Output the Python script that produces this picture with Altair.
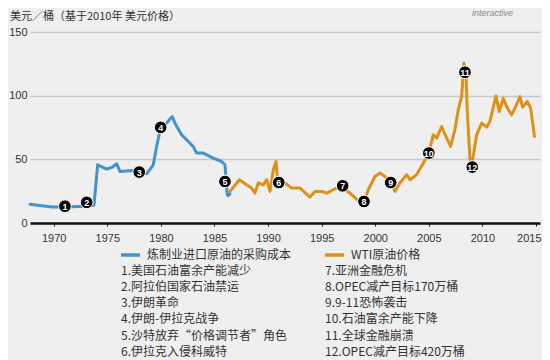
import altair as alt
import pandas as pd

# ---------------- data ----------------
blue_year = [1967.8, 1968.5, 1969.9, 1971.0, 1972.45, 1973.2, 1973.76, 1974.1, 1974.94,
             1975.5, 1975.88, 1976.18, 1977.28, 1977.98, 1978.68, 1979.29, 1979.6,
             1979.98, 1980.38, 1981.06, 1981.32, 1981.94, 1982.56, 1983.02, 1983.34,
             1983.96, 1984.89, 1985.67, 1985.98, 1986.19, 1986.29, 1986.45]
blue_value = [14.8, 14.0, 12.5, 12.6, 13.0, 13.3, 14.0, 45.7, 42.3,
              44.0, 46.5, 40.5, 41.2, 40.0, 38.7, 45.7, 60.0,
              75.0, 77.0, 83.6, 78.4, 69.2, 64.0, 60.0, 54.9,
              54.9, 51.0, 48.3, 45.7, 22.2, 21.4, 23.0]

wti_year = [1986.45, 1987.33, 1988.0, 1988.47, 1988.78, 1989.09, 1989.55, 1989.87, 1990.18,
            1990.49, 1990.74, 1990.86, 1991.58, 1992.2, 1992.98, 1993.91, 1994.38, 1995.0,
            1995.47, 1996.08, 1996.71, 1997.64, 1998.26, 1998.95, 1999.35, 1999.97, 2000.44,
            2000.91, 2001.44, 2001.84, 2002.3, 2002.93, 2003.24, 2003.86, 2004.48, 2005.0,
            2005.41, 2005.73, 2006.19, 2006.66, 2007.03, 2007.43, 2007.74, 2008.06, 2008.27,
            2008.46, 2008.58, 2008.83, 2008.97, 2009.14, 2009.46, 2009.93, 2010.39, 2010.7,
            2011.26, 2011.57, 2011.94, 2012.26, 2012.72, 2013.03, 2013.5, 2013.75, 2014.18,
            2014.5, 2014.85]
wti_value = [24.8, 34.0, 30.0, 27.4, 23.5, 31.4, 30.0, 34.0, 24.8,
             41.8, 48.3, 36.5, 31.4, 27.4, 27.4, 20.4, 24.8, 24.8,
             23.5, 26.1, 28.7, 23.5, 18.8, 16.9, 26.1, 36.5, 39.2,
             36.5, 31.8, 24.8, 31.4, 37.9, 34.0, 37.9, 47.0, 54.9,
             69.2, 66.7, 75.8, 66.7, 60.1, 73.2, 88.8, 99.3, 125.5,
             118.9, 88.8, 51.0, 45.7, 52.2, 69.2, 78.4, 75.3, 79.7,
             99.8, 87.5, 98.0, 91.4, 84.9, 90.2, 99.3, 91.0, 95.4,
             90.2, 68.0]

event_year = [1971.05, 1973.08, 1977.98, 1979.98, 1985.98, 1991.0,
              1996.96, 1998.95, 2001.44, 2005.0, 2008.37, 2009.05]
event_value = [13.2, 16.2, 40.0, 75.1, 32.6, 31.8,
               29.2, 16.9, 31.8, 54.9, 118.4, 43.9]
event_label = ["1", "2", "3", "4", "5", "6", "7", "8", "9", "10", "11", "12"]

series_names = ["炼制业进口原油的采购成本", "WTI原油价格"]
series_colors = ["#4393cf", "#dd9216"]

x_ticks = [1970, 1975, 1980, 1985, 1990, 1995, 2000, 2005, 2010, 2015]
y_ticks = [0, 25, 50, 75, 100, 125, 150]

left_notes = ["1.美国石油富余产能减少", "2.阿拉伯国家石油禁运", "3.伊朗革命",
              "4.伊朗-伊拉克战争", "5.沙特放弃“价格调节者”角色", "6.伊拉克入侵科威特"]
right_notes = ["7.亚洲金融危机", "8.OPEC减产目标170万桶", "9.9-11恐怖袭击",
               "10.石油富余产能下降", "11.全球金融崩溃", "12.OPEC减产目标420万桶"]

title_text = "美元／桶（基于2010年 美元价格）"

# ---------------- tables ----------------
lines_df = pd.concat([
    pd.DataFrame({"year": blue_year, "value": blue_value, "series": series_names[0]}),
    pd.DataFrame({"year": wti_year, "value": wti_value, "series": series_names[1]}),
])
events_df = pd.DataFrame({"year": event_year, "value": event_value, "label": event_label})
one = pd.DataFrame({"d": [0]})

CJK = "Noto Sans CJK SC"
LAT = "Liberation Sans"

x_enc = alt.X("year:Q",
              scale=alt.Scale(domain=[1967.79, 2015.37], nice=False, zero=False),
              axis=alt.Axis(values=x_ticks, format="d", title=None, grid=False,
                            domainColor="#111111", domainWidth=2.5,
                            tickColor="#111111", tickSize=3, tickWidth=1,
                            labelFont=LAT, labelFontSize=11, labelColor="#333333",
                            labelPadding=6, labelFlush=8, labelFlushOffset=5))
y_enc = alt.Y("value:Q",
              scale=alt.Scale(domain=[0, 150], nice=False),
              axis=alt.Axis(values=y_ticks, title=None, domain=False, ticks=False,
                            gridColor="#c8c8c8", gridWidth=1.5,
                            labelFont=LAT, labelFontSize=11, labelColor="#333333",
                            labelPadding=3))

lines = alt.Chart(lines_df).mark_line(strokeWidth=3, strokeJoin="round", strokeCap="round").encode(
    x=x_enc, y=y_enc,
    color=alt.Color("series:N", scale=alt.Scale(domain=series_names, range=series_colors), legend=None),
    detail="series:N",
)

dots = alt.Chart(events_df).mark_circle(size=160, color="#000000", opacity=1,
                                        stroke="#ffffff", strokeWidth=1).encode(
    x="year:Q", y="value:Q")
dot_text = alt.Chart(events_df).mark_text(color="#ffffff", fontSize=9, fontWeight="bold",
                                          font=LAT, align="center", baseline="middle", dy=0.5).encode(
    x="year:Q", y="value:Q", text="label:N")

layers = [lines, dots, dot_text]

# title and logo text
layers.append(alt.Chart(one).mark_text(font=CJK, fontSize=11, color="#333333", align="left",
                                       baseline="middle").encode(
    x=alt.value(-20), y=alt.value(-15), text=alt.value(title_text)))
layers.append(alt.Chart(one).mark_text(font=LAT, fontSize=9, fontStyle="italic", color="#888888",
                                       align="right", baseline="middle").encode(
    x=alt.value(483), y=alt.value(-19), text=alt.value("interactive")))

# custom legend
row0 = 223
step = 16.1
col_x = [91, 295]
for ci in range(2):
    layers.append(alt.Chart(one).mark_rule(strokeWidth=3.5, color=series_colors[ci]).encode(
        x=alt.value(col_x[ci]), x2=alt.value(col_x[ci] + 19), y=alt.value(row0)))
    layers.append(alt.Chart(one).mark_text(font=CJK, fontSize=12, color="#333333", align="left",
                                           baseline="middle").encode(
        x=alt.value(col_x[ci] + 26), y=alt.value(row0), text=alt.value(series_names[ci])))
    notes = left_notes if ci == 0 else right_notes
    for ri, t in enumerate(notes):
        layers.append(alt.Chart(one).mark_text(font=CJK, fontSize=12, color="#333333", align="left",
                                               baseline="middle").encode(
            x=alt.value(col_x[ci]), y=alt.value(row0 + step * (ri + 1)), text=alt.value(t)))

chart = alt.layer(*layers).properties(
    width=510, height=191,
    autosize=alt.AutoSizeParams(type="none"),
    padding={"left": 22, "top": 24, "right": 2, "bottom": 137},
).configure(background="#efefef").configure_view(stroke=None)

chart.save("out.html", embed_options={"renderer": "svg", "actions": False})
